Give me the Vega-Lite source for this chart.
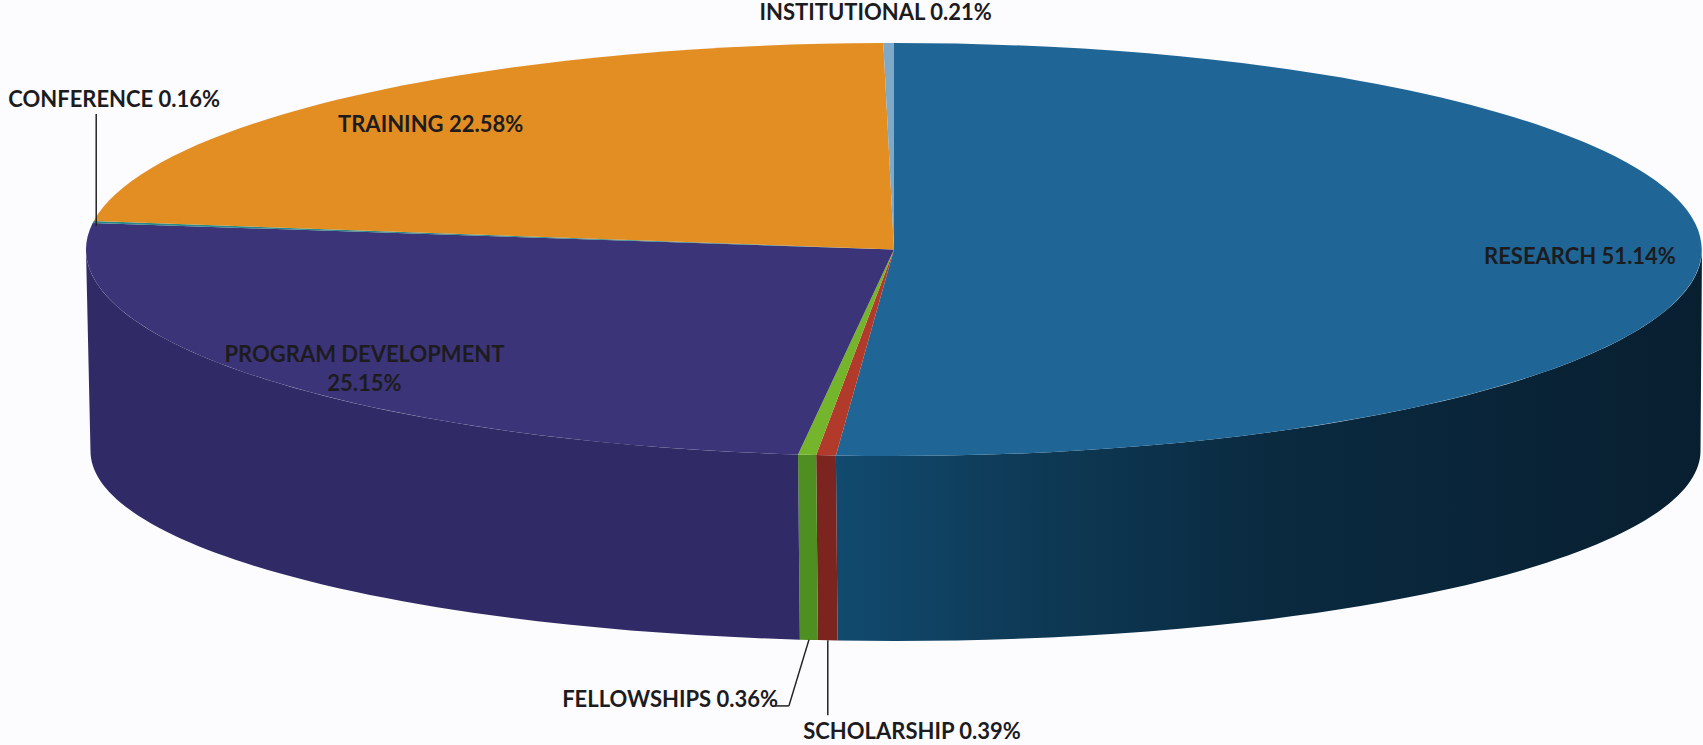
{
"$schema":"https://vega.github.io/schema/vega-lite/v6.json",
"width":1703,"height":745,"autosize":{"type":"none"},"padding":0,"background":"#fcfbfe",
"config":{"view":{"stroke":null}},
"data":{"values":[
{"category":"RESEARCH","share":51.14},
{"category":"SCHOLARSHIP","share":0.39},
{"category":"FELLOWSHIPS","share":0.36},
{"category":"PROGRAM DEVELOPMENT","share":25.15},
{"category":"CONFERENCE","share":0.16},
{"category":"TRAINING","share":22.58},
{"category":"INSTITUTIONAL","share":0.21}
]},
"transform":[
{"window":[{"op":"sum","field":"share","as":"cum"}]},
{"calculate":"(datum.cum-datum.share)/99.99*2*PI","as":"a0"},
{"calculate":"datum.cum/99.99*2*PI","as":"a1"},
{"calculate":"(datum.a0+datum.a1)/2","as":"mid"},
{"calculate":"'M0,0L'+round(80800*sin(datum.a0))/100+','+round(-20650*cos(datum.a0))/100+'A808,206.5 0 '+(datum.a1-datum.a0>PI?1:0)+' 1 '+round(80800*sin(datum.a1))/100+','+round(-20650*cos(datum.a1))/100+'Z'","as":"facePath"},
{"calculate":"max(datum.a0,PI/2)","as":"w0"},
{"calculate":"min(datum.a1,3*PI/2)","as":"w1"},
{"calculate":"datum.w1>datum.w0?'M'+round(80800*sin(datum.w0))/100+','+round(-20650*cos(datum.w0))/100+'A808,206.5 0 0 1 '+round(80800*sin(datum.w1))/100+','+round(-20650*cos(datum.w1))/100+'L'+round(150+80500*sin(datum.w1))/100+','+round(20150-19000*cos(datum.w1))/100+'A805,190 0 0 0 '+round(150+80500*sin(datum.w0))/100+','+round(20150-19000*cos(datum.w0))/100+'Z':''","as":"wallPath"},
{"calculate":"{'RESEARCH':[-121.5,0],'SCHOLARSHIP':[86,277],'FELLOWSHIPS':[-137,245],'PROGRAM DEVELOPMENT':[108,-21],'CONFERENCE':[21,-122],'TRAINING':[71,30],'INSTITUTIONAL':[-13,-30]}[datum.category]","as":"off"},
{"calculate":"894+808*sin(datum.mid)+datum.off[0]","as":"labelX"},
{"calculate":"249.5-206.5*cos(datum.mid)+datum.off[1]","as":"labelY"},
{"calculate":"datum.category+(datum.category=='PROGRAM DEVELOPMENT'?'\\n':' ')+format(datum.share,'.2f')+'%'","as":"label"},
{"calculate":"datum.mid>PI/2&&datum.mid<3*PI/2?895.5+805*sin(datum.mid):897+808*sin(datum.mid)","as":"rimX"},
{"calculate":"datum.mid>PI/2&&datum.mid<3*PI/2?451-190*cos(datum.mid):253.5-206.5*cos(datum.mid)","as":"rimY"},
{"calculate":"{'CONFERENCE':[0,-112],'FELLOWSHIPS':[-20,66],'SCHOLARSHIP':[0,75]}[datum.category]","as":"lead"}
],
"layer":[
{"transform":[{"filter":"datum.category=='RESEARCH'"}],
 "mark":{"type":"point","filled":true,"opacity":1,"strokeWidth":0,
  "fill":{"gradient":"linear","x1":0,"y1":0,"x2":1,"y2":0,"stops":[{"offset":0,"color":"#114a6e"},{"offset":0.2,"color":"#0e3b58"},{"offset":0.5,"color":"#0a2a40"},{"offset":1,"color":"#081f30"}]}},
 "encoding":{
  "x":{"datum":894,"type":"quantitative","scale":{"domain":[0,1703],"nice":false,"zero":false},"axis":null},
  "y":{"datum":249.5,"type":"quantitative","scale":{"domain":[745,0],"nice":false,"zero":false},"axis":null},
  "shape":{"field":"wallPath","type":"nominal","scale":null,"legend":null},
  "size":{"value":4}
 }},
{"transform":[{"filter":"datum.wallPath!=''&&datum.category!='RESEARCH'"}],
 "mark":{"type":"point","filled":true,"opacity":1,"strokeWidth":0},
 "encoding":{
  "x":{"datum":894,"type":"quantitative","scale":{"domain":[0,1703],"nice":false,"zero":false},"axis":null},
  "y":{"datum":249.5,"type":"quantitative","scale":{"domain":[745,0],"nice":false,"zero":false},"axis":null},
  "shape":{"field":"wallPath","type":"nominal","scale":null,"legend":null},
  "size":{"value":4},
  "fill":{"field":"category","type":"nominal","legend":null,"scale":{
    "domain":["SCHOLARSHIP","FELLOWSHIPS","PROGRAM DEVELOPMENT"],
    "range":["#7c2520","#4f8f22","#302b66"]}}
 }},
{"mark":{"type":"point","filled":true,"opacity":1,"strokeWidth":0},
 "encoding":{
  "x":{"datum":894,"type":"quantitative","scale":{"domain":[0,1703],"nice":false,"zero":false},"axis":null},
  "y":{"datum":249.5,"type":"quantitative","scale":{"domain":[745,0],"nice":false,"zero":false},"axis":null},
  "shape":{"field":"facePath","type":"nominal","scale":null,"legend":null},
  "size":{"value":4},
  "fill":{"field":"category","type":"nominal","legend":null,"scale":{
    "domain":["RESEARCH","SCHOLARSHIP","FELLOWSHIPS","PROGRAM DEVELOPMENT","CONFERENCE","TRAINING","INSTITUTIONAL"],
    "range":["#1f6696","#b23a2a","#74b52c","#3c3478","#2a8a8a","#e38e22","#7fa9c8"]}}
 }},
{"transform":[{"filter":"isValid(datum.lead)"},{"calculate":"datum.rimX+datum.lead[0]","as":"endX"},{"calculate":"datum.rimY+datum.lead[1]","as":"endY"}],
 "mark":{"type":"rule","color":"#222222","strokeWidth":1.5},
 "encoding":{
  "x":{"field":"rimX","type":"quantitative","scale":{"domain":[0,1703],"nice":false,"zero":false},"axis":null},
  "y":{"field":"rimY","type":"quantitative","scale":{"domain":[745,0],"nice":false,"zero":false},"axis":null},
  "x2":{"field":"endX"},"y2":{"field":"endY"}
 }},
{"transform":[{"filter":"datum.category=='FELLOWSHIPS'"},{"calculate":"datum.rimX+datum.lead[0]","as":"endX"},{"calculate":"datum.rimY+datum.lead[1]","as":"endY"},{"calculate":"datum.endX-14","as":"tailX"}],
 "mark":{"type":"rule","color":"#222222","strokeWidth":1.5},
 "encoding":{
  "x":{"field":"endX","type":"quantitative","scale":{"domain":[0,1703],"nice":false,"zero":false},"axis":null},
  "y":{"field":"endY","type":"quantitative","scale":{"domain":[745,0],"nice":false,"zero":false},"axis":null},
  "x2":{"field":"tailX"},"y2":{"field":"endY"}
 }},
{"mark":{"type":"text","font":"Lato","fontWeight":"bold","fontSize":22,"color":"#1c1c1f","align":"center","baseline":"middle","lineBreak":"\n","lineHeight":29},
 "encoding":{
  "x":{"field":"labelX","type":"quantitative","scale":{"domain":[0,1703],"nice":false,"zero":false},"axis":null},
  "y":{"field":"labelY","type":"quantitative","scale":{"domain":[745,0],"nice":false,"zero":false},"axis":null},
  "text":{"field":"label","type":"nominal"}
 }}
],
"resolve":{"scale":{"fill":"independent"}}
}
